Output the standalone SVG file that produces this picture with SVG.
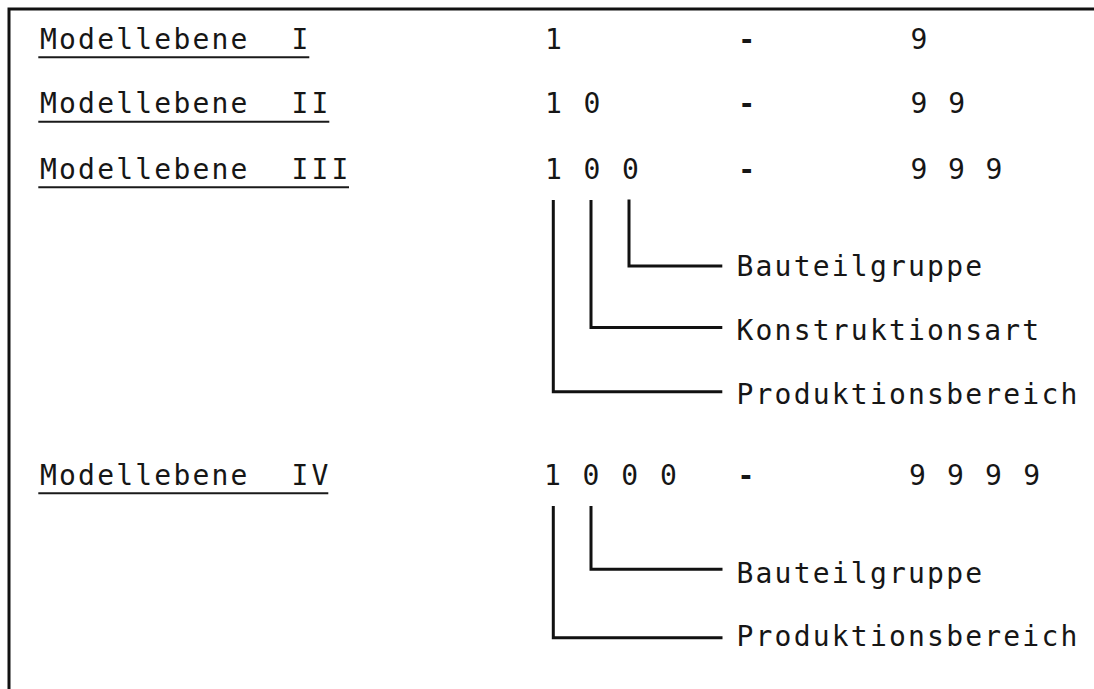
<svg xmlns="http://www.w3.org/2000/svg" width="1094" height="689" viewBox="0 0 1094 689">
<style>
.t{font-family:"DejaVu Sans Mono","Liberation Mono",monospace;font-size:28px;letter-spacing:2.2px;fill:#161616}
.r{letter-spacing:3.1px}
.d{letter-spacing:2.4px}
.h{font-weight:bold}
.ul{stroke:#1a1a1a;stroke-width:2;fill:none}
.c{stroke:#111;stroke-width:3;fill:none;stroke-linejoin:miter;stroke-linecap:butt}
.b{stroke:#111;stroke-width:3;fill:none}
</style>
<rect x="0" y="0" width="1094" height="689" fill="#fff"/>
<g id="frame">
<path class="b" d="M9,689 V9 H1094"/>
</g>
<g id="level1">
<text class="t" x="40" y="48.7">Modellebene</text>
<text class="t r" x="291.6" y="48.7">I</text>
<line class="ul" x1="38.3" y1="57.3" x2="309.3" y2="57.3"/>
<text class="t" x="544.9" y="48.5">1</text>
<text class="t h" x="738.3" y="48.5">-</text>
<text class="t" x="910.6" y="48.5">9</text>
</g>
<g id="level2">
<text class="t" x="40" y="113.3">Modellebene</text>
<text class="t r" x="291.6" y="113.3">II</text>
<line class="ul" x1="38.3" y1="121.7" x2="329.3" y2="121.7"/>
<text class="t d" x="544.9" y="113.3">1 0</text>
<text class="t h" x="738.3" y="113.3">-</text>
<text class="t" x="910.6" y="113.3" style="letter-spacing:2px">9 9</text>
</g>
<g id="level3">
<text class="t" x="40" y="179.3">Modellebene</text>
<text class="t r" x="291.6" y="179.3">III</text>
<line class="ul" x1="38.3" y1="187.3" x2="349" y2="187.3"/>
<text class="t d" x="544.9" y="178.5">1 0 0</text>
<text class="t h" x="738.3" y="178.5">-</text>
<text class="t" x="910.6" y="178.5" style="letter-spacing:1.9px">9 9 9</text>
</g>
<g id="level3-labels">
<text class="t" x="736.5" y="275.5">Bauteilgruppe</text>
<text class="t" x="736.5" y="339.5">Konstruktionsart</text>
<text class="t" x="736.5" y="403.5">Produktionsbereich</text>
</g>
<g id="level4">
<text class="t" x="40" y="485">Modellebene</text>
<text class="t r" x="291.6" y="485">IV</text>
<line class="ul" x1="38.3" y1="493.3" x2="328.3" y2="493.3"/>
<text class="t" x="543.9" y="485" style="letter-spacing:2.5px">1 0 0 0</text>
<text class="t h" x="737.6" y="485">-</text>
<text class="t" x="908.9" y="485">9 9 9 9</text>
</g>
<g id="level4-labels">
<text class="t" x="736.5" y="583">Bauteilgruppe</text>
<text class="t" x="736.5" y="646">Produktionsbereich</text>
</g>
<g id="connectors">
<path class="c" d="M553.3,200 V391.7 H722.3"/>
<path class="c" d="M591,200 V327.5 H722.3"/>
<path class="c" d="M629,199.5 V266 H722.3"/>
<path class="c" d="M553.3,506 V637.7 H722.5"/>
<path class="c" d="M591,506 V569.3 H722.5"/>
</g>
</svg>
